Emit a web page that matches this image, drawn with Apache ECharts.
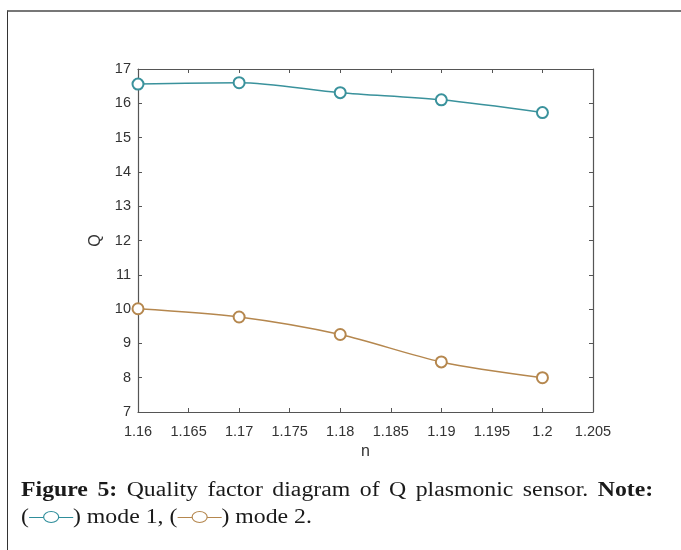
<!DOCTYPE html>
<html>
<head>
<meta charset="utf-8">
<script src="https://cdn.jsdelivr.net/npm/echarts@6/dist/echarts.min.js"></script>
<style>
  html, body { margin: 0; padding: 0; background: #fff; }
  #wrap { position: relative; width: 681px; height: 550px; overflow: hidden; }
  #frame { position: absolute; left: 7px; top: 10px; right: -5px; bottom: -5px;
           border-top: 2px solid #777; border-left: 1px solid #333; }
  #chart { position: absolute; left: 0; top: 0; width: 681px; height: 550px; }
  #caption { position: absolute; left: 21px; top: 476px; width: 545px;
             font-family: "Liberation Serif", "DejaVu Serif", serif; font-size: 20.5px;
             line-height: 27px; color: #1a1a1a;
             transform: scaleX(1.16); transform-origin: 0 0; }
  #caption .l1 { text-align: justify; text-align-last: justify; white-space: nowrap; }
  #caption .l2 { white-space: nowrap; }
  #caption b { font-weight: bold; }
  .glyph { display: inline-block; position: relative; width: 38px; height: 13px; vertical-align: -1px; }
  .glyph .ln { position: absolute; left: 0; right: 0; top: 6px; height: 0; border-top: 1.5px solid; }
  .glyph .ci { position: absolute; left: 12px; top: 0; width: 12px; height: 10px;
               border: 1.5px solid; border-radius: 50%; background: #fff; }
</style>
</head>
<body>
<div id="wrap">
  <div id="frame"></div>
  <div id="chart"></div>
  <div id="caption">
    <div class="l1"><b>Figure 5:</b> Quality factor diagram of Q plasmonic sensor. <b>Note:</b></div>
    <div class="l2">(<span class="glyph" style="color:#2f8e9b"><span class="ln"></span><span class="ci"></span></span>) mode 1,
    (<span class="glyph" style="color:#b5874e"><span class="ln"></span><span class="ci"></span></span>) mode 2.</div>
  </div>
</div>
<script>
(function () {
    // refractive index n
    var nValues = [1.16, 1.17, 1.18, 1.19, 1.2];
    // quality factor Q
    var mode1Q = [16.56, 16.6, 16.31, 16.1, 15.73];
    var mode2Q = [10.01, 9.77, 9.26, 8.46, 8.0];

    var colorMode1 = '#3a929c';
    var colorMode2 = '#b5874e';
    var axisColor = '#555';
    var labelFont = { color: '#333', fontSize: 14.5, fontFamily: 'Liberation Sans, Arial, sans-serif' };

    function pairs(xs, ys) {
        var out = [];
        for (var i = 0; i < xs.length; i++) {
            out.push([xs[i], ys[i]]);
        }
        return out;
    }

    function fmtX(v) {
        return String(parseFloat(v.toFixed(3)));
    }

    var chart = echarts.init(document.getElementById('chart'), null, { renderer: 'canvas' });

    var boxAxis = {
        axisLine: { show: true, lineStyle: { color: axisColor, width: 1.2 } },
        axisTick: { show: true, inside: true, length: 4, lineStyle: { color: axisColor } },
        splitLine: { show: false }
    };

    chart.setOption({
        animation: false,
        grid: { left: 138, top: 69, right: 88, bottom: 138 },
        xAxis: [
            Object.assign({
                type: 'value', min: 1.16, max: 1.205, interval: 0.005,
                name: 'n', nameLocation: 'middle', nameGap: 32,
                nameTextStyle: { color: '#333', fontSize: 16, fontFamily: 'Liberation Sans, Arial, sans-serif' },
                axisLabel: Object.assign({ margin: 12, formatter: fmtX }, labelFont)
            }, boxAxis),
            Object.assign({
                type: 'value', min: 1.16, max: 1.205, interval: 0.005, position: 'top',
                axisLabel: { show: false }
            }, boxAxis)
        ],
        yAxis: [
            Object.assign({
                type: 'value', min: 7, max: 17, interval: 1,
                name: 'Q', nameLocation: 'middle', nameGap: 18,
                nameTextStyle: { color: '#333', fontSize: 16, fontFamily: 'Liberation Sans, Arial, sans-serif' },
                axisLabel: Object.assign({ margin: 7 }, labelFont)
            }, boxAxis),
            Object.assign({
                type: 'value', min: 7, max: 17, interval: 1, position: 'right',
                axisLabel: { show: false }
            }, boxAxis)
        ],
        series: [
            {
                name: 'mode 1', type: 'line', smooth: 0.3,
                data: pairs(nValues, mode1Q),
                symbol: 'emptyCircle', symbolSize: 11,
                lineStyle: { color: colorMode1, width: 1.5 },
                itemStyle: { color: colorMode1, borderWidth: 1.5 }
            },
            {
                name: 'mode 2', type: 'line', smooth: 0.3,
                data: pairs(nValues, mode2Q),
                symbol: 'emptyCircle', symbolSize: 11,
                lineStyle: { color: colorMode2, width: 1.5 },
                itemStyle: { color: colorMode2, borderWidth: 1.5 }
            }
        ]
    });
})();
</script>
</body>
</html>
